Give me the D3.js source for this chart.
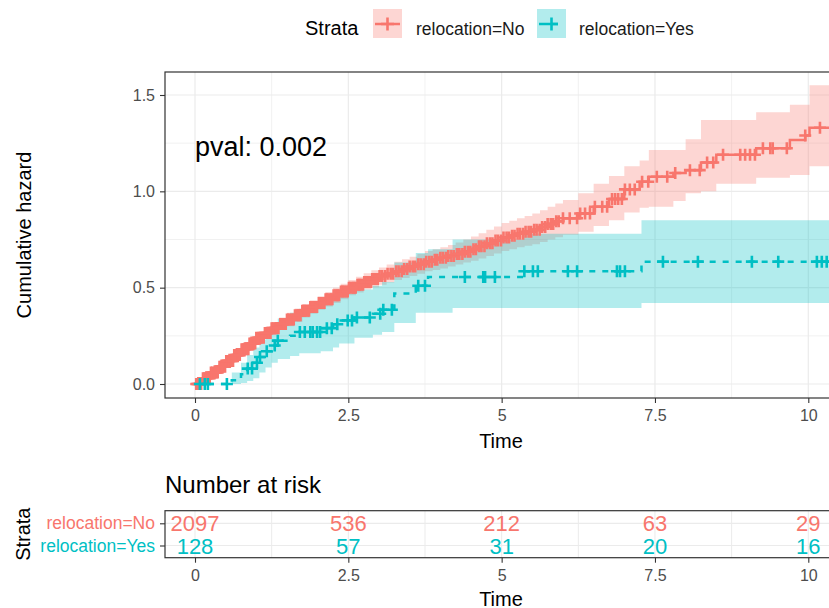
<!DOCTYPE html>
<html>
<head>
<meta charset="utf-8">
<script src="https://cdn.jsdelivr.net/npm/d3@7"></script>
<style>
  body { margin: 0; background: #fff; }
  svg { font-family: "Liberation Sans", Arial, sans-serif; }
</style>
</head>
<body>
<svg id="chart" width="829" height="608"></svg>
<script>
// Strata and colours
const strata = ["relocation=No", "relocation=Yes"];
const strataColors = ["#F8766D", "#00BFC4"];

// relocation=No: step times, cumulative hazard, confidence band
const noTime  = [0, 0.125, 0.25, 0.375, 0.5, 0.625, 0.75, 0.875, 1.0, 1.125, 1.25, 1.375, 1.5, 1.625, 1.75, 1.875, 2.0, 2.125, 2.25, 2.375, 2.5, 2.625, 2.75, 2.875, 3.0, 3.125, 3.25, 3.375, 3.5, 3.625, 3.75, 3.875, 4.0, 4.125, 4.25, 4.375, 4.5, 4.625, 4.75, 4.875, 5.0, 5.125, 5.25, 5.375, 5.5, 5.625, 5.75, 5.875, 6.0,
                 6.25, 6.5, 6.75, 7.0, 7.25, 7.4, 7.8, 8.0, 8.25, 8.5, 9.15, 9.7, 9.95, 10.02, 10.6];
const noEst   = [0, 0.03, 0.06, 0.09, 0.12, 0.15, 0.18, 0.21, 0.24, 0.265, 0.29, 0.312, 0.335, 0.357, 0.38, 0.40, 0.42, 0.44, 0.46, 0.48, 0.50, 0.515, 0.53, 0.545, 0.56, 0.572, 0.585, 0.597, 0.61, 0.622, 0.635, 0.645, 0.655, 0.665, 0.675, 0.687, 0.70, 0.715, 0.73, 0.745, 0.76, 0.77, 0.78, 0.79, 0.80, 0.815, 0.83, 0.845, 0.86,
                 0.885, 0.92, 0.96, 1.01, 1.05, 1.076, 1.095, 1.11, 1.15, 1.19, 1.224, 1.267, 1.29, 1.33, 1.33];
const noLower = [0, 0.022, 0.045, 0.072, 0.10, 0.127, 0.155, 0.182, 0.21, 0.235, 0.26, 0.28, 0.30, 0.322, 0.345, 0.365, 0.385, 0.402, 0.42, 0.44, 0.46, 0.475, 0.49, 0.502, 0.515, 0.527, 0.54, 0.55, 0.56, 0.572, 0.585, 0.592, 0.60, 0.61, 0.62, 0.63, 0.64, 0.652, 0.665, 0.677, 0.69, 0.70, 0.71, 0.717, 0.725, 0.737, 0.75, 0.762, 0.775,
                 0.79, 0.82, 0.85, 0.89, 0.915, 0.92, 0.95, 0.99, 1.0, 1.04, 1.07, 1.085, 1.085, 1.13, 1.13];
const noUpper = [0, 0.038, 0.075, 0.107, 0.14, 0.172, 0.205, 0.237, 0.27, 0.295, 0.32, 0.345, 0.37, 0.392, 0.415, 0.435, 0.455, 0.477, 0.50, 0.52, 0.54, 0.557, 0.575, 0.59, 0.605, 0.62, 0.635, 0.647, 0.66, 0.675, 0.69, 0.70, 0.71, 0.722, 0.735, 0.75, 0.765, 0.782, 0.80, 0.817, 0.835, 0.847, 0.86, 0.872, 0.885, 0.902, 0.92, 0.937, 0.955,
                 0.99, 1.04, 1.08, 1.13, 1.16, 1.215, 1.215, 1.27, 1.37, 1.37, 1.41, 1.45, 1.45, 1.55, 1.55];

// relocation=Yes
const yesTime  = [0, 0.60, 0.75, 0.85, 0.95, 1.05, 1.15, 1.25, 1.35, 1.55, 1.70, 2.05, 2.25, 2.35, 2.60, 2.90, 3.05, 3.25, 3.60, 3.80, 4.20, 5.35, 7.28, 10.6];
const yesEst   = [0, 0.02, 0.05, 0.08, 0.11, 0.14, 0.17, 0.20, 0.225, 0.25, 0.27, 0.29, 0.31, 0.33, 0.345, 0.365, 0.385, 0.47, 0.51, 0.555, 0.555, 0.585, 0.635, 0.635];
const yesLower = [0, 0, 0.005, 0.015, 0.03, 0.06, 0.085, 0.11, 0.13, 0.145, 0.16, 0.17, 0.19, 0.21, 0.24, 0.255, 0.27, 0.316, 0.37, 0.37, 0.395, 0.395, 0.42, 0.42];
const yesUpper = [0, 0.06, 0.11, 0.15, 0.19, 0.23, 0.27, 0.31, 0.34, 0.37, 0.39, 0.42, 0.45, 0.47, 0.49, 0.51, 0.53, 0.63, 0.68, 0.70, 0.75, 0.78, 0.85, 0.85];

// censoring times
const noCensor = [0.02, 0.04, 0.06, 0.08, 0.10, 0.13, 0.15, 0.17, 0.19, 0.22, 0.24, 0.26, 0.28, 0.31, 0.33, 0.35, 0.37, 0.40, 0.42, 0.44, 0.46, 0.49, 0.51, 0.53, 0.55, 0.58, 0.60, 0.62, 0.64, 0.67, 0.69, 0.71, 0.73, 0.76, 0.78, 0.80, 0.82, 0.85, 0.87, 0.89, 0.91, 0.94, 0.96, 0.98, 1.00, 1.03, 1.05, 1.07, 1.09, 1.12, 1.14, 1.16, 1.18, 1.21, 1.23, 1.25, 1.27, 1.30, 1.32, 1.34, 1.36, 1.39, 1.41, 1.43, 1.45, 1.48, 1.50, 1.52, 1.54, 1.57, 1.59, 1.61, 1.63, 1.66, 1.68, 1.70, 1.72, 1.75, 1.77, 1.79, 1.81, 1.84, 1.86, 1.88, 1.90, 1.93, 1.95, 1.97, 1.99, 2.02, 2.04, 2.06, 2.08, 2.11, 2.13, 2.15, 2.17, 2.20, 2.22, 2.24, 2.26, 2.29, 2.31, 2.33, 2.35, 2.38, 2.40, 2.42, 2.44, 2.47, 2.49, 2.51, 2.53, 2.56, 2.58, 2.60, 2.62, 2.65, 2.67, 2.69, 2.71, 2.74, 2.76, 2.78, 2.80, 2.83, 2.85, 2.87, 2.89, 2.92, 2.94, 2.96, 2.98, 3.01,
  3.05, 3.10, 3.14, 3.19, 3.23, 3.28, 3.32, 3.37, 3.41, 3.46, 3.50, 3.55, 3.59, 3.64, 3.68, 3.73, 3.77, 3.82, 3.86, 3.91, 3.95, 4.00, 4.04, 4.09, 4.13, 4.18, 4.22, 4.27, 4.31, 4.36, 4.40, 4.45, 4.49, 4.54, 4.58, 4.63, 4.67, 4.72, 4.76, 4.81, 4.85, 4.90, 4.94, 4.99, 5.03, 5.08, 5.12, 5.17, 5.21, 5.26, 5.30, 5.35, 5.39, 5.44, 5.48, 5.53, 5.57, 5.62, 5.66, 5.71, 5.75, 5.80, 5.84, 5.89, 5.93,
  6.0, 6.11, 6.23, 6.28, 6.36, 6.44, 6.52, 6.64, 6.72, 6.80, 6.85, 6.90, 6.96, 7.01, 7.09, 7.17, 7.29, 7.39, 7.53, 7.70, 7.83, 8.07, 8.23, 8.35, 8.45, 8.61, 8.89, 8.97, 9.05, 9.13, 9.26, 9.38, 9.42, 9.65, 9.95, 10.19];
const yesCensor = [0.08, 0.16, 0.21, 0.52, 0.86, 0.93, 1.01, 1.06, 1.17, 1.30, 1.35, 1.71, 1.79, 1.88, 1.92, 1.99, 2.04, 2.15, 2.23, 2.32, 2.49, 2.56, 2.64, 2.85, 3.02, 3.07, 3.21, 3.64, 3.75, 4.40, 4.70, 4.73, 4.89, 5.37, 5.51, 5.59, 6.08, 6.23, 6.88, 6.93, 7.01, 7.63, 8.20, 9.08, 9.51, 10.14, 10.22, 10.30];

// number at risk table
const riskTimes = [0, 2.5, 5, 7.5, 10];
const riskNo = [2097, 536, 212, 63, 29];
const riskYes = [128, 57, 31, 20, 16];

// ticks
const xTicks = [0, 2.5, 5, 7.5, 10];
const xTickLabels = ["0", "2.5", "5", "7.5", "10"];
const xMinor = [1.25, 3.75, 6.25, 8.75];
const yTicks = [0, 0.5, 1.0, 1.5];
const yTickLabels = ["0.0", "0.5", "1.0", "1.5"];
const yMinor = [0.25, 0.75, 1.25];
const pvalText = "pval: 0.002";

const svg = d3.select("#chart");
const gridCol = "#EBEBEB", borderCol = "#333333", tickTextCol = "#4D4D4D";

// Main panel layout
const panel = { left: 165, right: 835, top: 72, bottom: 398 };
const x = d3.scaleLinear().domain([0, 10]).range([195, 808.3]);
const y = d3.scaleLinear().domain([0, 1.5]).range([384, 95]);

svg.append("defs").append("clipPath").attr("id", "clipMain")
  .append("rect")
  .attr("x", panel.left).attr("y", panel.top)
  .attr("width", panel.right - panel.left).attr("height", panel.bottom - panel.top);

// grid
const grid = svg.append("g");
grid.selectAll("line.ymin").data(yMinor).enter().append("line")
  .attr("x1", panel.left).attr("x2", panel.right)
  .attr("y1", d => y(d)).attr("y2", d => y(d))
  .attr("stroke", gridCol).attr("stroke-width", 0.7);
grid.selectAll("line.xmin").data(xMinor).enter().append("line")
  .attr("y1", panel.top).attr("y2", panel.bottom)
  .attr("x1", d => x(d)).attr("x2", d => x(d))
  .attr("stroke", gridCol).attr("stroke-width", 0.7);
grid.selectAll("line.ymaj").data(yTicks).enter().append("line")
  .attr("x1", panel.left).attr("x2", panel.right)
  .attr("y1", d => y(d)).attr("y2", d => y(d))
  .attr("stroke", gridCol).attr("stroke-width", 1.2);
grid.selectAll("line.xmaj").data(xTicks).enter().append("line")
  .attr("y1", panel.top).attr("y2", panel.bottom)
  .attr("x1", d => x(d)).attr("x2", d => x(d))
  .attr("stroke", gridCol).attr("stroke-width", 1.2);

const series = [
  { time: noTime, est: noEst, lower: noLower, upper: noUpper, censor: noCensor, color: strataColors[0], dash: null },
  { time: yesTime, est: yesEst, lower: yesLower, upper: yesUpper, censor: yesCensor, color: strataColors[1], dash: "6,7" }
];

const plot = svg.append("g").attr("clip-path", "url(#clipMain)");

// confidence ribbons
series.forEach(s => {
  const area = d3.area().curve(d3.curveStepAfter)
    .x(i => x(s.time[i])).y0(i => y(s.lower[i])).y1(i => y(s.upper[i]));
  plot.append("path").attr("d", area(d3.range(s.time.length)))
    .attr("fill", s.color).attr("fill-opacity", 0.3);
});

// step curves
series.forEach(s => {
  const line = d3.line().curve(d3.curveStepAfter)
    .x(i => x(s.time[i])).y(i => y(s.est[i]));
  plot.append("path").attr("d", line(d3.range(s.time.length)))
    .attr("fill", "none").attr("stroke", s.color).attr("stroke-width", 2.5)
    .attr("stroke-dasharray", s.dash);
});

// censor marks ("+")
function plusPath(size) {
  return `M${-size / 2},0H${size / 2}M0,${-size / 2}V${size / 2}`;
}
series.forEach(s => {
  plot.append("g").selectAll("path").data(s.censor).enter().append("path")
    .attr("d", plusPath(12))
    .attr("transform", t => {
      const i = d3.bisectRight(s.time, t) - 1;
      return `translate(${x(t)},${y(s.est[i])})`;
    })
    .attr("stroke", s.color).attr("stroke-width", 2.6).attr("fill", "none");
});

// panel border
svg.append("rect")
  .attr("x", panel.left).attr("y", panel.top)
  .attr("width", panel.right - panel.left).attr("height", panel.bottom - panel.top)
  .attr("fill", "none").attr("stroke", borderCol).attr("stroke-width", 1.2);

// axes
function styleAxis(g) {
  g.select(".domain").remove();
  g.selectAll(".tick line").attr("stroke", borderCol).attr("stroke-width", 1.1);
  g.selectAll(".tick text").attr("fill", tickTextCol).style("font-size", "16px")
    .style("font-family", "'Liberation Sans', Arial, sans-serif");
}
svg.append("g").attr("transform", `translate(0,${panel.bottom})`)
  .call(d3.axisBottom(x).tickValues(xTicks).tickSize(5).tickPadding(7)
    .tickFormat((d, i) => xTickLabels[i]))
  .call(styleAxis);
svg.append("g").attr("transform", `translate(${panel.left},0)`)
  .call(d3.axisLeft(y).tickValues(yTicks).tickSize(5).tickPadding(5)
    .tickFormat((d, i) => yTickLabels[i]))
  .call(styleAxis);

svg.append("text").attr("x", (panel.left + 829) / 2 + 4).attr("y", 448)
  .attr("text-anchor", "middle").style("font-size", "20px").text("Time");
svg.append("text").attr("transform", `translate(31,${(panel.top + panel.bottom) / 2}) rotate(-90)`)
  .attr("text-anchor", "middle").style("font-size", "20px").text("Cumulative hazard");

svg.append("text").attr("x", x(0)).attr("y", 156)
  .style("font-size", "27px").text(pvalText);

// legend
svg.append("text").attr("x", 305).attr("y", 35).style("font-size", "20px").text("Strata");
const legendX = [373, 537];
const legendTextX = [416, 579];
series.forEach((s, k) => {
  const g = svg.append("g").attr("transform", `translate(${legendX[k]},9)`);
  g.append("rect").attr("width", 29).attr("height", 29)
    .attr("fill", s.color).attr("fill-opacity", 0.3);
  g.append("line").attr("x1", 2).attr("x2", 27).attr("y1", 15).attr("y2", 15)
    .attr("stroke", s.color).attr("stroke-width", 2.5).attr("stroke-dasharray", s.dash);
  g.append("path").attr("d", plusPath(13)).attr("transform", "translate(14.5,15)")
    .attr("stroke", s.color).attr("stroke-width", 2.6);
  svg.append("text").attr("x", legendTextX[k]).attr("y", 35)
    .style("font-size", "17.5px").attr("fill", "#1a1a1a").text(strata[k]);
});

// risk table
const rPanel = { left: 165, right: 835, top: 510.7, bottom: 557.7 };
const rowY = d3.scalePoint().domain([strata[0], strata[1]]).range([523.3, 545.5]);

svg.append("text").attr("x", 165).attr("y", 493).style("font-size", "24px").text("Number at risk");

const rg = svg.append("g");
rg.selectAll("line.rmin").data(xMinor.concat(xTicks)).enter().append("line")
  .attr("y1", rPanel.top).attr("y2", rPanel.bottom)
  .attr("x1", d => x(d)).attr("x2", d => x(d))
  .attr("stroke", gridCol).attr("stroke-width", 1);
rg.selectAll("line.rrow").data(strata).enter().append("line")
  .attr("x1", rPanel.left).attr("x2", rPanel.right)
  .attr("y1", d => rowY(d)).attr("y2", d => rowY(d))
  .attr("stroke", gridCol).attr("stroke-width", 1.2);

const riskRows = [riskNo, riskYes];
riskRows.forEach((vals, k) => {
  rg.selectAll(null).data(vals).enter().append("text")
    .attr("x", (d, i) => x(riskTimes[i]))
    .attr("y", rowY(strata[k]) + 8)
    .attr("text-anchor", "middle")
    .style("font-size", "22px")
    .attr("fill", strataColors[k])
    .text(d => d);
});

svg.append("rect")
  .attr("x", rPanel.left).attr("y", rPanel.top)
  .attr("width", rPanel.right - rPanel.left).attr("height", rPanel.bottom - rPanel.top)
  .attr("fill", "none").attr("stroke", borderCol).attr("stroke-width", 1.2);

svg.append("g").attr("transform", `translate(0,${rPanel.bottom})`)
  .call(d3.axisBottom(x).tickValues(xTicks).tickSize(5).tickPadding(7)
    .tickFormat((d, i) => xTickLabels[i]))
  .call(styleAxis);
const ry = svg.append("g").attr("transform", `translate(${rPanel.left},0)`)
  .call(d3.axisLeft(rowY).tickSize(5).tickPadding(5))
  .call(styleAxis);
ry.selectAll(".tick text").style("font-size", "17.5px")
  .attr("fill", d => strataColors[strata.indexOf(d)]);

svg.append("text").attr("x", (rPanel.left + 829) / 2 + 4).attr("y", 606)
  .attr("text-anchor", "middle").style("font-size", "20px").text("Time");
svg.append("text").attr("transform", `translate(30,${(rPanel.top + rPanel.bottom) / 2}) rotate(-90)`)
  .attr("text-anchor", "middle").style("font-size", "20px").text("Strata");
</script>
</body>
</html>
